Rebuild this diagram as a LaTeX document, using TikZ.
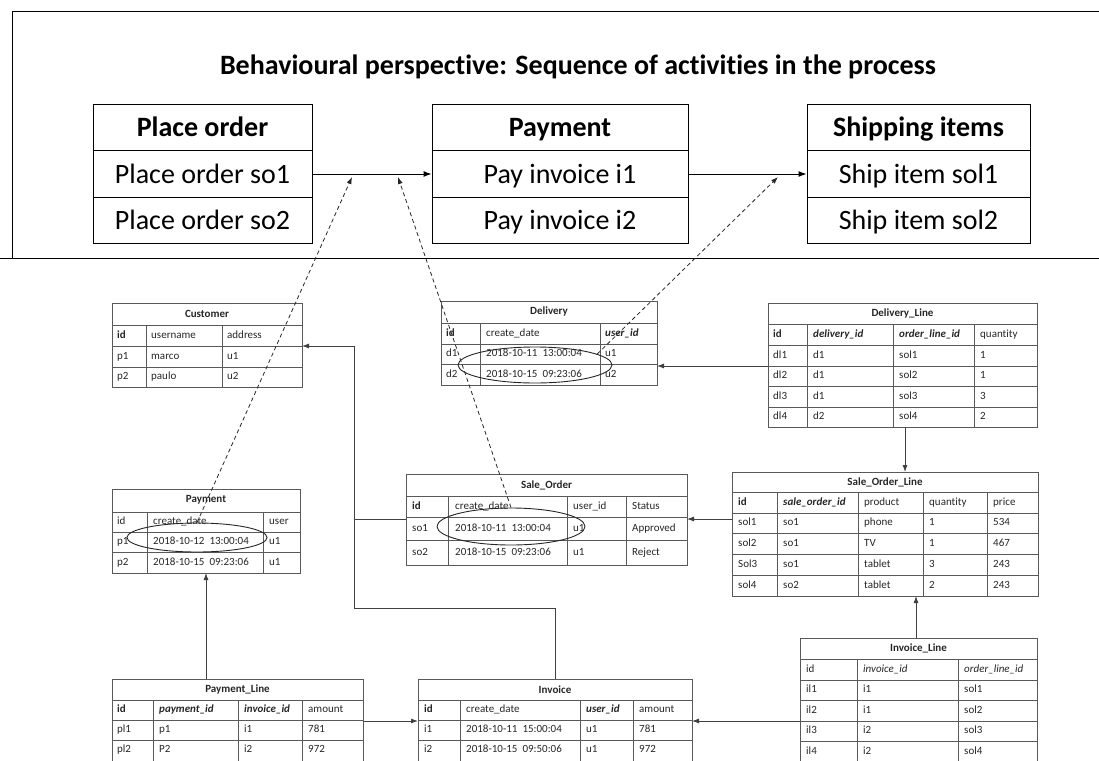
\documentclass[tikz,border=0pt]{standalone}
\usepackage{fontspec}
\setmainfont{Carlito}[Ligatures=NoCommon]
\usetikzlibrary{arrows.meta,shapes.geometric}
\tikzset{
	actbox/.style={draw, line width=1pt, minimum height=46.5pt, inner sep=0pt, text height=21pt, text depth=3pt, font=\fontsize{28}{30}\selectfont},
	acthead/.style={actbox, font=\fontsize{28}{30}\selectfont\bfseries},
	flow/.style={draw, line width=1pt, -{Latex[length=8pt,width=6pt]}},
	tbl/.style={draw=black!65, line width=0.8pt},
	tblhead/.style={inner sep=0pt, font=\fontsize{11}{13}\selectfont\bfseries, text=black!85},
	cell/.style={anchor=west, inner sep=0pt, text height=8pt, text depth=2.5pt, font=\fontsize{11}{13}\selectfont, text=black!85},
	conn/.style={draw=black!75, line width=0.8pt, -{Latex[length=7pt,width=5pt]}},
	tline/.style={draw=black!75, line width=0.8pt},
	trace/.style={draw=black!85, line width=0.8pt, dash pattern=on 4pt off 3pt, -{Latex[length=7pt,width=5pt]}},
	oval/.style={ellipse, draw=black!85, line width=0.9pt, inner sep=0pt}
}

\begin{document}
\begin{tikzpicture}[x=1pt,y=-1pt]
	%%%%% START %%%%%
	\useasboundingbox (0,0) rectangle (1099,760);
	
	\draw[line width=1pt] (1099,12) -- (12,12) -- (12,258);
	\draw[line width=1pt] (0,258) -- (1099,258);
	\node[font=\fontsize{28}{30}\selectfont\bfseries] (title) at (578,67) {Behavioural perspective: Sequence of activities in the process};
	
	\node[acthead, minimum width=219pt] (po-h) at (202.5,127.5) {Place order};
	\node[actbox, minimum width=219pt] (po-1) at (202.5,174) {Place order so1};
	\node[actbox, minimum width=219pt] (po-2) at (202.5,220.5) {Place order so2};
	
	\node[acthead, minimum width=256pt] (pay-h) at (560,127.5) {Payment};
	\node[actbox, minimum width=256pt] (pay-1) at (560,174) {Pay invoice i1};
	\node[actbox, minimum width=256pt] (pay-2) at (560,220.5) {Pay invoice i2};
	
	\node[acthead, minimum width=223pt] (ship-h) at (918.5,127.5) {Shipping items};
	\node[actbox, minimum width=223pt] (ship-1) at (918.5,174) {Ship item sol1};
	\node[actbox, minimum width=223pt] (ship-2) at (918.5,220.5) {Ship item sol2};
	
	\draw[flow] (po-1) -- (pay-1);
	\draw[flow] (pay-1) -- (ship-1);
	
	% Customer
	\draw[tbl] (112,303) rectangle (302,387);
	\foreach \y in {325,346,367} \draw[tbl] (112,\y) -- (302,\y);
	\foreach \x in {146,222} \draw[tbl] (\x,325) -- (\x,387);
	\node[tblhead] (customer) at (207,314) {Customer};
	\foreach \y/\a/\b/\c [count=\i] in {335.5/\textbf{id}/username/address, 356.5/p1/marco/u1, 377/p2/paulo/u2}{
		\node[cell] (cus-\i-1) at (117,\y) {\a};
		\node[cell] (cus-\i-2) at (151,\y) {\b};
		\node[cell] (cus-\i-3) at (227,\y) {\c};
	}
	
	% Delivery
	\draw[tbl] (441,301) rectangle (657,385);
	\foreach \y in {323,344,364} \draw[tbl] (441,\y) -- (657,\y);
	\foreach \x in {480,600} \draw[tbl] (\x,323) -- (\x,385);
	\node[tblhead] (delivery) at (549,312) {Delivery};
	\foreach \y/\a/\b/\c [count=\i] in {333.5/\textbf{id}/create\_date/\textbf{\textit{user\_id}}, 354/d1/2018-10-11\ \ 13:00:04/u1, 374.5/d2/2018-10-15\ \ 09:23:06/u2}{
		\node[cell] (del-\i-1) at (446,\y) {\a};
		\node[cell] (del-\i-2) at (486,\y) {\b};
		\node[cell] (del-\i-3) at (605,\y) {\c};
	}
	
	% Delivery_Line
	\draw[tbl] (768,303) rectangle (1037,427);
	\foreach \y in {324,345,366,386,407} \draw[tbl] (768,\y) -- (1037,\y);
	\foreach \x in {807,893,974} \draw[tbl] (\x,324) -- (\x,427);
	\node[tblhead] (delivery-line) at (902.5,313.5) {Delivery\_Line};
	\foreach \y/\a/\b/\c/\d [count=\i] in {334.5/\textbf{id}/\textbf{\textit{delivery\_id}}/\textbf{\textit{order\_line\_id}}/quantity, 355.5/dl1/d1/sol1/1, 376/dl2/d1/sol2/1, 396.5/dl3/d1/sol3/3, 417/dl4/d2/sol4/2}{
		\node[cell] (dl-\i-1) at (773,\y) {\a};
		\node[cell] (dl-\i-2) at (813,\y) {\b};
		\node[cell] (dl-\i-3) at (899,\y) {\c};
		\node[cell] (dl-\i-4) at (980,\y) {\d};
	}
	
	% Sale_Order_Line
	\draw[tbl] (732,472) rectangle (1038,596);
	\foreach \y in {492,513,533,554,575} \draw[tbl] (732,\y) -- (1038,\y);
	\foreach \x in {777,858,923,987} \draw[tbl] (\x,492) -- (\x,596);
	\node[tblhead] (sale-order-line) at (885,482) {Sale\_Order\_Line};
	\foreach \y/\a/\b/\c/\d/\e [count=\i] in {502.5/\textbf{id}/\textbf{\textit{sale\_order\_id}}/product/quantity/price, 523/sol1/so1/phone/1/534, 543.5/sol2/so1/TV/1/467, 564.5/Sol3/so1/tablet/3/243, 585.5/sol4/so2/tablet/2/243}{
		\node[cell] (sol-\i-1) at (738,\y) {\a};
		\node[cell] (sol-\i-2) at (783,\y) {\b};
		\node[cell] (sol-\i-3) at (864,\y) {\c};
		\node[cell] (sol-\i-4) at (929,\y) {\d};
		\node[cell] (sol-\i-5) at (993,\y) {\e};
	}
	
	% Sale_Order
	\draw[tbl] (406,474) rectangle (687,565);
	\foreach \y in {496,517,540} \draw[tbl] (406,\y) -- (687,\y);
	\foreach \x in {448,567,626} \draw[tbl] (\x,496) -- (\x,565);
	\node[tblhead] (sale-order) at (546.5,485) {Sale\_Order};
	\foreach \y/\a/\b/\c/\d [count=\i] in {506.5/\textbf{id}/create\_date/user\_id/Status, 528.5/so1/2018-10-11\ \ 13:00:04/u1/Approved, 552.5/so2/2018-10-15\ \ 09:23:06/u1/Reject}{
		\node[cell] (so-\i-1) at (412,\y) {\a};
		\node[cell] (so-\i-2) at (455,\y) {\b};
		\node[cell] (so-\i-3) at (573,\y) {\c};
		\node[cell] (so-\i-4) at (632,\y) {\d};
	}
	
	% Payment
	\draw[tbl] (112,489) rectangle (300,573);
	\foreach \y in {512,532,552} \draw[tbl] (112,\y) -- (300,\y);
	\foreach \x in {147,263} \draw[tbl] (\x,512) -- (\x,573);
	\node[tblhead] (payment) at (206,500) {Payment};
	\foreach \y/\a/\b/\c [count=\i] in {522/id/create\_date/user, 542/p1/2018-10-12\ \ 13:00:04/u1, 562.5/p2/2018-10-15\ \ 09:23:06/u1}{
		\node[cell] (pm-\i-1) at (117,\y) {\a};
		\node[cell] (pm-\i-2) at (153,\y) {\b};
		\node[cell] (pm-\i-3) at (269,\y) {\c};
	}
	
	% Payment_Line
	\draw[tbl] (112,679) rectangle (363,763);
	\foreach \y in {700,720,740} \draw[tbl] (112,\y) -- (363,\y);
	\foreach \x in {153,238,302} \draw[tbl] (\x,700) -- (\x,763);
	\node[tblhead] (payment-line) at (237.5,689.5) {Payment\_Line};
	\foreach \y/\a/\b/\c/\d [count=\i] in {710/\textbf{id}/\textbf{\textit{payment\_id}}/\textbf{\textit{invoice\_id}}/amount, 730/pl1/p1/i1/781, 750/pl2/P2/i2/972}{
		\node[cell] (pl-\i-1) at (117,\y) {\a};
		\node[cell] (pl-\i-2) at (159,\y) {\b};
		\node[cell] (pl-\i-3) at (244,\y) {\c};
		\node[cell] (pl-\i-4) at (308,\y) {\d};
	}
	
	% Invoice
	\draw[tbl] (418,679) rectangle (692,763);
	\foreach \y in {700,720,740} \draw[tbl] (418,\y) -- (692,\y);
	\foreach \x in {460,580,633} \draw[tbl] (\x,700) -- (\x,763);
	\node[tblhead] (invoice) at (555,689.5) {Invoice};
	\foreach \y/\a/\b/\c/\d [count=\i] in {710/\textbf{id}/create\_date/\textbf{\textit{user\_id}}/amount, 730/i1/2018-10-11\ \ 15:00:04/u1/781, 750/i2/2018-10-15\ \ 09:50:06/u1/972}{
		\node[cell] (inv-\i-1) at (424,\y) {\a};
		\node[cell] (inv-\i-2) at (466,\y) {\b};
		\node[cell] (inv-\i-3) at (586,\y) {\c};
		\node[cell] (inv-\i-4) at (639,\y) {\d};
	}
	
	% Invoice_Line
	\draw[tbl] (800,638) rectangle (1037,763);
	\foreach \y in {659,680,700,721,741} \draw[tbl] (800,\y) -- (1037,\y);
	\foreach \x in {857,958} \draw[tbl] (\x,659) -- (\x,763);
	\node[tblhead] (invoice-line) at (918.5,648.5) {Invoice\_Line};
	\foreach \y/\a/\b/\c [count=\i] in {669.5/id/\textit{invoice\_id}/\textit{order\_line\_id}, 690/il1/i1/sol1, 710.5/il2/i1/sol2, 731/il3/i2/sol3, 751.5/il4/i2/sol4}{
		\node[cell] (il-\i-1) at (806,\y) {\a};
		\node[cell] (il-\i-2) at (863,\y) {\b};
		\node[cell] (il-\i-3) at (964,\y) {\c};
	}
	
	% links between tables
	\coordinate (cus-e) at (302,346);
	\coordinate (so-w) at (406,519);
	\coordinate (jn) at (354,608);
	\coordinate (inv-n) at (555,679);
	\draw[conn] (so-w) -| (jn |- cus-e) -- (cus-e);
	\draw[tline] (inv-n) |- (jn) -- (jn |- so-w);
	
	\coordinate (dl-w) at (768,366);
	\coordinate (del-e) at (657,366);
	\draw[conn] (dl-w) -- (del-e);
	\coordinate (dl-s) at (905,427);
	\coordinate (sol-n) at (905,472);
	\draw[conn] (dl-s) -- (sol-n);
	\coordinate (sol-w) at (732,519);
	\coordinate (so-e) at (687,519);
	\draw[conn] (sol-w) -- (so-e);
	\coordinate (il-n) at (916,638);
	\coordinate (sol-s) at (916,596);
	\draw[conn] (il-n) -- (sol-s);
	\coordinate (il-w) at (800,721);
	\coordinate (inv-e) at (692,721);
	\draw[conn] (il-w) -- (inv-e);
	\coordinate (pl-e) at (363,721);
	\coordinate (inv-w) at (418,721);
	\draw[conn] (pl-e) -- (inv-w);
	\coordinate (pl-n) at (206,679);
	\coordinate (pay-s) at (206,573);
	\draw[conn] (pl-n) -- (pay-s);
	
	% traces to the activities
	\node[oval, minimum width=154pt, minimum height=36pt] (del-ov) at (535,365) {};
	\node[oval, minimum width=140pt, minimum height=29pt] (pm-ov) at (197,537.5) {};
	\node[oval, minimum width=148pt, minimum height=37pt] (so-ov) at (511,526.5) {};
	\coordinate (q1) at (352,177);
	\coordinate (q2) at (398,177);
	\coordinate (q3) at (778,177);
	\draw[trace] (pm-ov.north) -- (q1);
	\draw[trace] (so-ov.north) -- (q2);
	\draw[trace] (del-ov.10) -- (q3);
	
	%%%%% END %%%%%
\end{tikzpicture}
\end{document}
